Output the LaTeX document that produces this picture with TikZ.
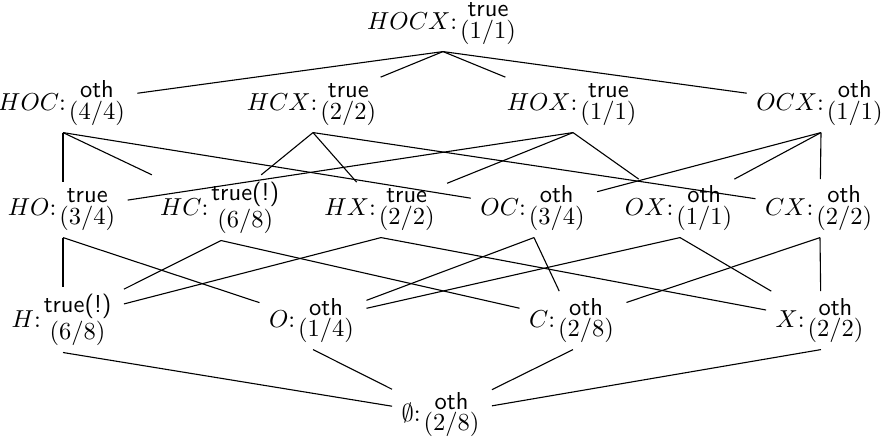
\documentclass[tikz,border=0pt]{standalone}
\newcommand{\lab}[3]{$#1{:}{\mbox{\sffamily #2}\atop\mbox{#3}}$}
\begin{document}
\begin{tikzpicture}[x=0.408pt,y=-0.408pt,
  lat/.style={inner xsep=3.7pt, inner ysep=2.6pt, anchor=base},
  edge/.style={line width=0.45pt}]
\useasboundingbox (0,0) rectangle (886,441);
\node[lat] (HOCX) at (443,29) {\lab{HOCX}{true}{(1/1)}};
\node[lat] (HOC) at (63,110) {\lab{HOC}{oth}{(4/4)}};
\node[lat] (HCX) at (313,110) {\lab{HCX}{true}{(2/2)}};
\node[lat] (HOX) at (573,110) {\lab{HOX}{true}{(1/1)}};
\node[lat] (OCX) at (821,110) {\lab{OCX}{oth}{(1/1)}};
\node[lat] (HO) at (63,215) {\lab{HO}{true}{(3/4)}};
\node[lat] (HC) at (221,215) {\lab{HC}{true(!)}{(6/8)}};
\node[lat] (HX) at (381,215) {\lab{HX}{true}{(2/2)}};
\node[lat] (OC) at (534,215) {\lab{OC}{oth}{(3/4)}};
\node[lat] (OX) at (680,215) {\lab{OX}{oth}{(1/1)}};
\node[lat] (CX) at (820,215) {\lab{CX}{oth}{(2/2)}};
\node[lat] (H) at (63,327) {\lab{H}{true(!)}{(6/8)}};
\node[lat] (O) at (313,327) {\lab{O}{oth}{(1/4)}};
\node[lat] (C) at (573,327) {\lab{C}{oth}{(2/8)}};
\node[lat] (X) at (821,327) {\lab{X}{oth}{(2/2)}};
\node[lat] (E) at (442,421) {\lab{\emptyset}{oth}{(2/8)}};
\foreach \u/\l in {HOCX/HOC,HOCX/HCX,HOCX/HOX,HOCX/OCX,
  HOC/HO,HOC/HC,HOC/OC,HCX/HC,HCX/HX,HCX/CX,HOX/HO,HOX/HX,HOX/OX,OCX/OC,OCX/OX,OCX/CX,
  HO/H,HO/O,HC/H,HC/C,HX/H,HX/X,OC/O,OC/C,OX/O,OX/X,CX/C,CX/X,
  H/E,O/E,C/E,X/E}
  \draw[edge] (\u.south) -- (\l);
\end{tikzpicture}
\end{document}
